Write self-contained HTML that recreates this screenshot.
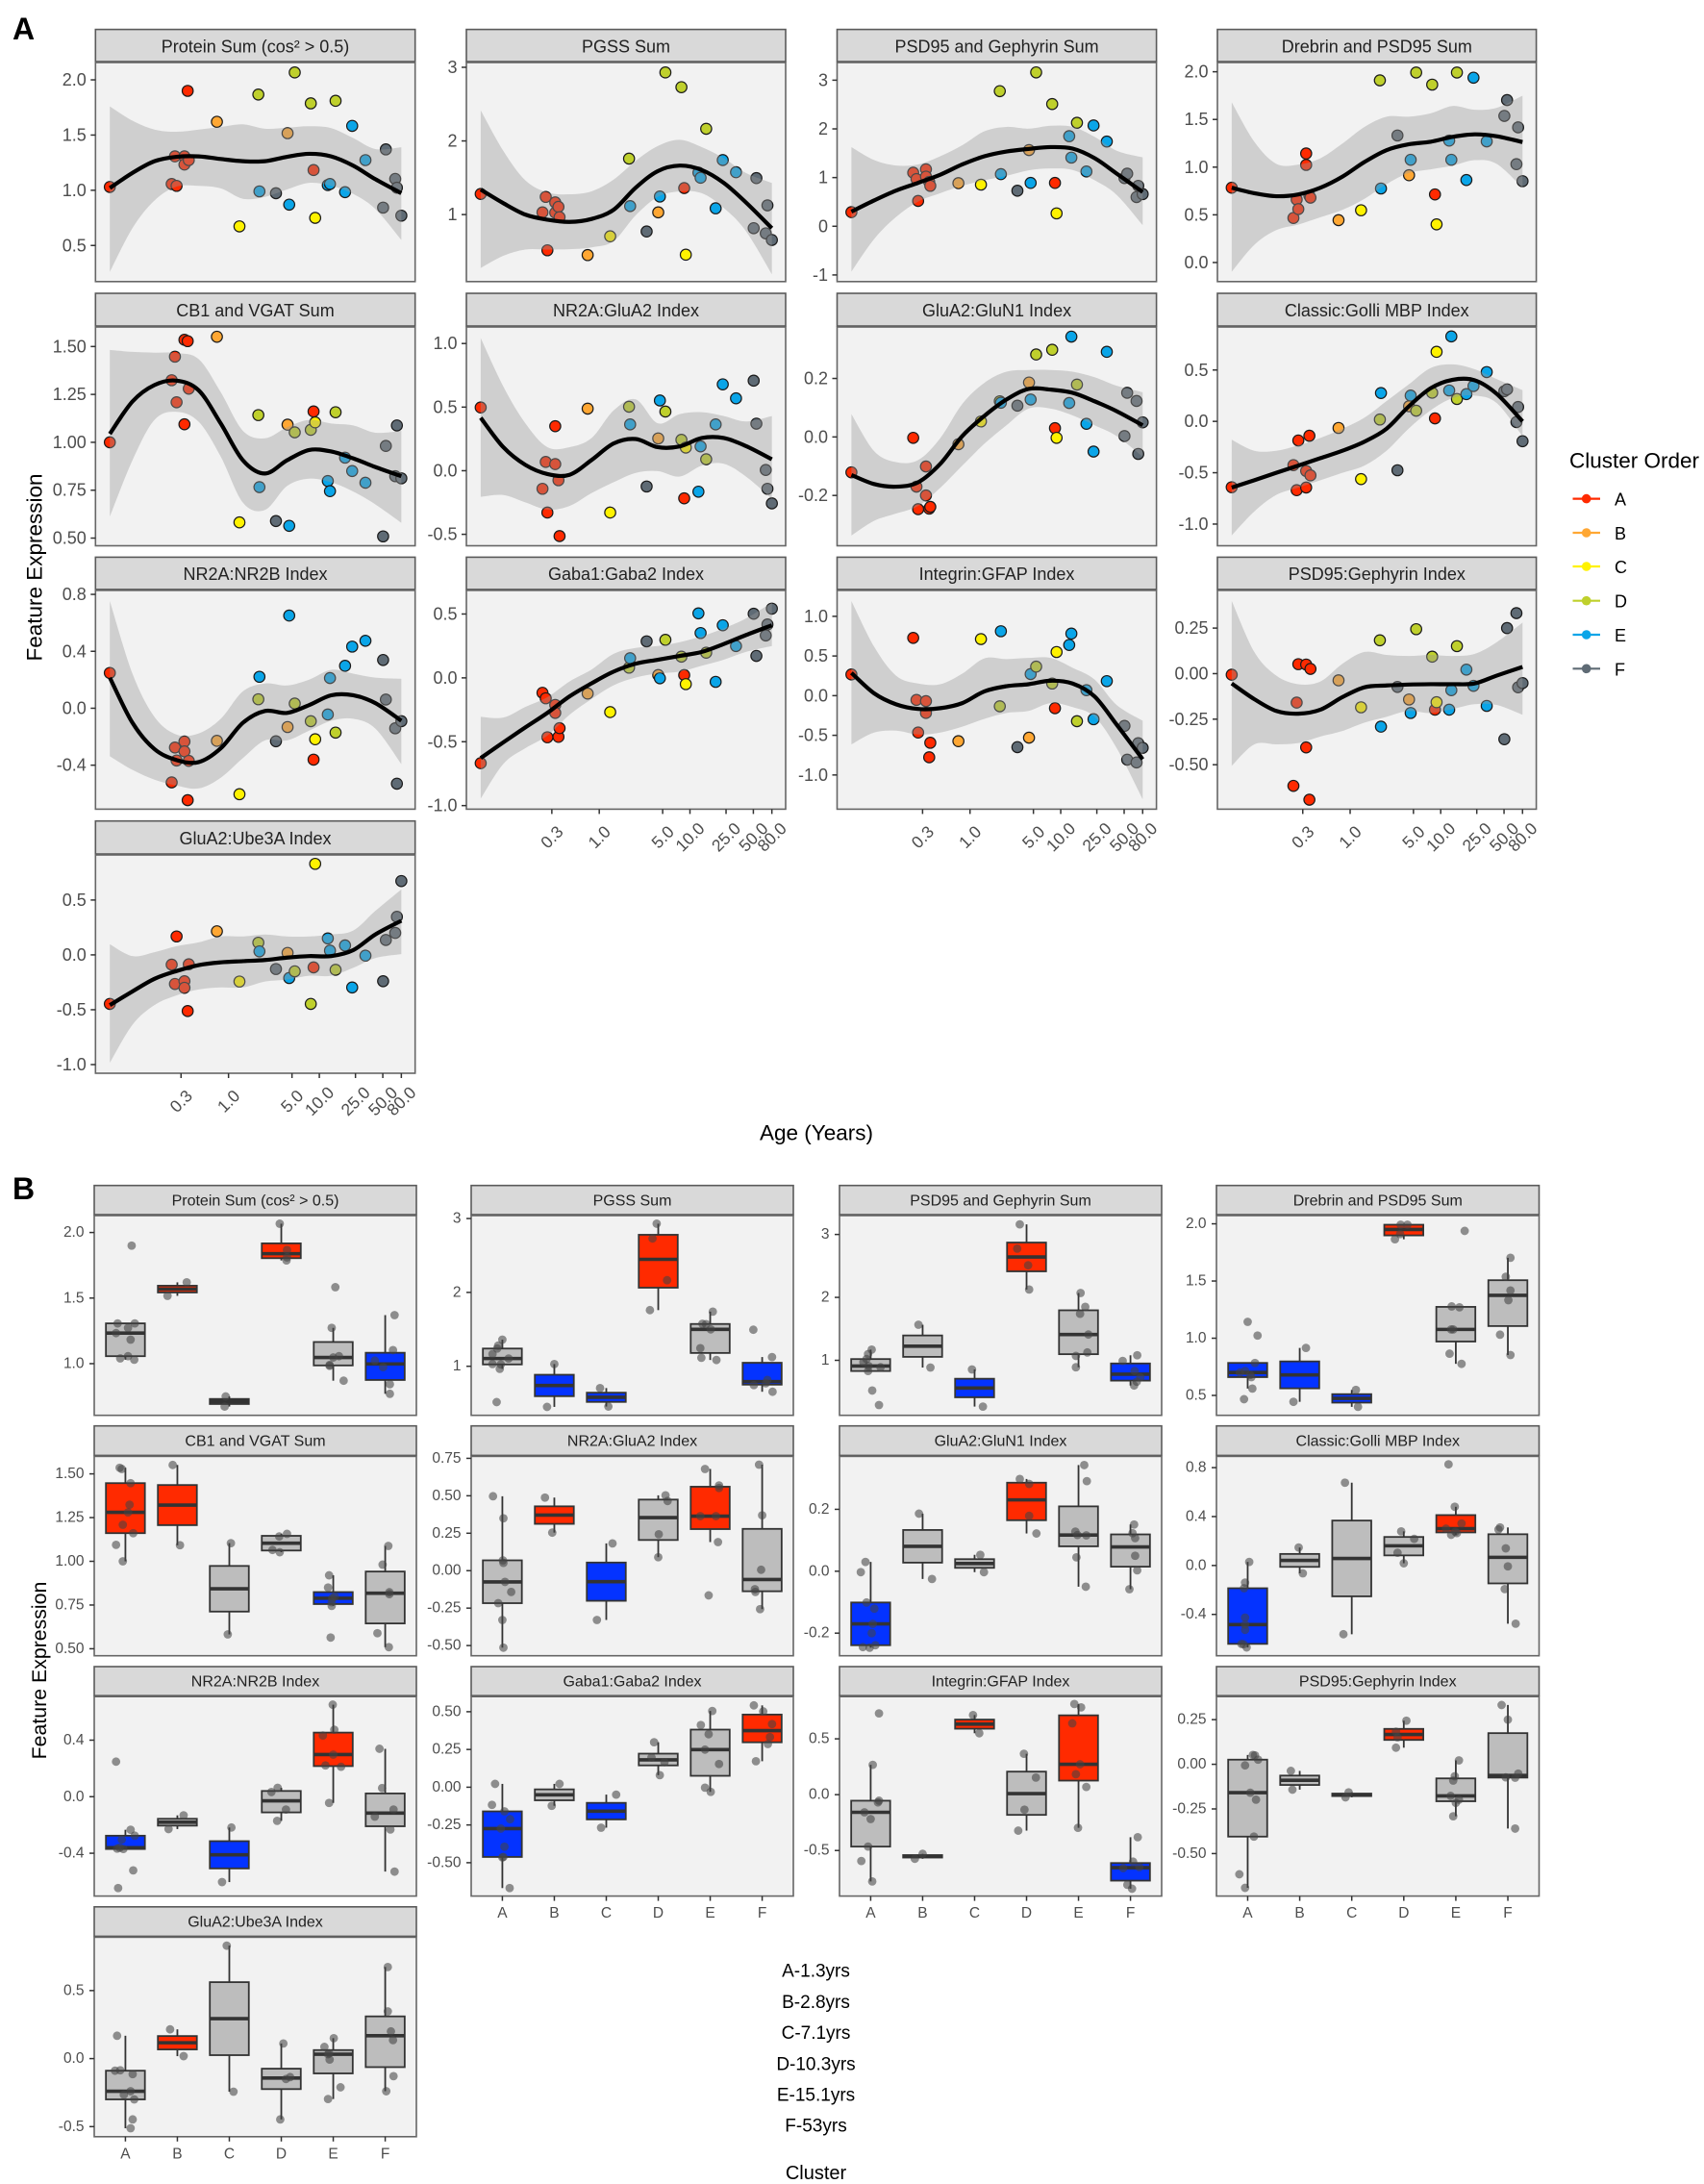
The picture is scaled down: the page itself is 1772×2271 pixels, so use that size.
<!DOCTYPE html>
<html lang="en">
<head>
<meta charset="utf-8">
<title>Feature expression by age and cluster</title>
<style>
html,body{margin:0;padding:0;background:#fff;}
body{width:1772px;height:2271px;overflow:hidden;}
svg{display:block;font-family:"Liberation Sans",Arial,sans-serif;}
</style>
</head>
<body>
<svg id="chart" width="1772" height="2271" viewBox="0 0 1772 2271" xmlns="http://www.w3.org/2000/svg">
<rect x="0" y="0" width="1772" height="2271" fill="#ffffff"/>
<text x="13" y="41" font-size="32" font-weight="bold" fill="#000">A</text>
<text x="13" y="1247" font-size="32" font-weight="bold" fill="#000">B</text>
<text transform="translate(36,590) rotate(-90)" text-anchor="middle" dominant-baseline="central" font-size="22.5" fill="#000">Feature Expression</text>
<text x="849" y="1178" text-anchor="middle" dominant-baseline="central" font-size="22.5" fill="#000">Age (Years)</text>
<text transform="translate(41,1737) rotate(-90)" text-anchor="middle" dominant-baseline="central" font-size="21.3" fill="#000">Feature Expression</text>
<text x="848.5" y="2050" text-anchor="middle" dominant-baseline="central" font-size="19" fill="#000">A-1.3yrs</text>
<text x="848.5" y="2082.5" text-anchor="middle" dominant-baseline="central" font-size="19" fill="#000">B-2.8yrs</text>
<text x="848.5" y="2114.5" text-anchor="middle" dominant-baseline="central" font-size="19" fill="#000">C-7.1yrs</text>
<text x="848.5" y="2147" text-anchor="middle" dominant-baseline="central" font-size="19" fill="#000">D-10.3yrs</text>
<text x="848.5" y="2179" text-anchor="middle" dominant-baseline="central" font-size="19" fill="#000">E-15.1yrs</text>
<text x="848.5" y="2211" text-anchor="middle" dominant-baseline="central" font-size="19" fill="#000">F-53yrs</text>
<text x="848.5" y="2260" text-anchor="middle" dominant-baseline="central" font-size="20" fill="#000">Cluster</text>
<text x="1632" y="479" dominant-baseline="central" font-size="22.5" fill="#000">Cluster Order</text>
</svg>
<script>
// ---------- shared sample data ----------
const sampleAges = [0.0493,0.2366,0.257,0.268,0.327,0.327,0.355,0.365,0.745,1.32,2.13,2.19,3.33,4.47,4.66,5.36,8.05,8.64,9.0,12.4,13.1,15.1,19.2,23.0,32.2,50.4,54,68.5,71.5,80];
const sampleClusters = ['A','A','A','A','A','A','A','A','B','C','D','E','F','B','E','D','D','A','C','E','E','D','E','E','E','F','F','F','F','F'];
const clusterNames = ['A','B','C','D','E','F'];
const clusterColors = ['#ff2a00','#ffa733','#fff200','#bfd02c','#0aa5e8','#5f6b75'];
const panelTitles = ['Protein Sum (cos\u00b2 > 0.5)','PGSS Sum','PSD95 and Gephyrin Sum','Drebrin and PSD95 Sum','CB1 and VGAT Sum','NR2A:GluA2 Index','GluA2:GluN1 Index','Classic:Golli MBP Index','NR2A:NR2B Index','Gaba1:Gaba2 Index','Integrin:GFAP Index','PSD95:Gephyrin Index','GluA2:Ube3A Index'];
const ageXTicks = [0.3,1,5,10,25,50,80];
const ageXDomainLog = [-1.465,2.055];

// ---------- feature values, one per sample ----------
const proteinSum = [1.03,1.057,1.307,1.04,1.307,1.233,1.9,1.273,1.62,.673,1.867,.99,.973,1.517,.87,2.067,1.787,1.183,.75,1.047,1.057,1.81,.983,1.583,1.273,.843,1.37,1.103,1.023,.77];
const pgssSum = [1.28,1.03,1.24,.515,1.165,1.025,1.105,.965,.45,.705,1.76,1.115,.77,1.03,1.245,2.93,2.73,1.36,.455,1.57,1.5,2.165,1.085,1.74,1.575,.815,1.495,.745,1.125,.655];
const psdGephSum = [.29,1.1,.97,.52,1.17,1.02,.91,.83,.885,.855,2.775,1.07,.73,1.565,.89,3.16,2.51,.89,.265,1.85,1.41,2.125,1.125,2.07,1.74,.99,1.08,.6,.83,.66];
const drebrinSum = [.784,.467,.66,.56,1.143,1.023,.7,.68,.444,.548,1.91,.776,1.332,.915,1.077,1.992,1.865,.714,.4,1.278,1.077,1.992,.865,1.938,1.27,1.537,1.703,1.031,1.417,.853];
const cb1VgatSum = [1.0,1.324,1.447,1.209,1.535,1.094,1.528,1.28,1.551,.582,1.142,.766,.589,1.092,.564,1.052,1.065,1.161,1.104,.798,.745,1.157,.92,.85,.789,.509,.981,.823,1.088,.812];
const nr2aGlua2 = [.497,-.142,.069,-.329,.052,.35,-.075,-.514,.488,-.329,.503,.364,-.124,.254,.552,.465,.243,-.217,.182,-.165,.191,.09,.364,.679,.569,.708,.37,.006,-.142,-.257];
const glua2Glun1 = [-.121,-.003,-.17,-.247,-.101,-.2,-.245,-.239,-.025,.053,.122,.117,.107,.186,.128,.282,.298,.03,-.003,.116,.343,.179,.045,-.05,.291,.003,.151,.123,-.058,.05];
const classicGolli = [-.641,-.426,-.67,-.186,-.644,-.483,-.14,-.526,-.064,-.562,.018,.276,-.476,.147,.251,.104,.279,.029,.677,.301,.827,.218,.265,.344,.48,.294,.311,-.007,.14,-.193];
const nr2aNr2b = [.248,-.521,-.276,-.367,-.234,-.303,-.646,-.37,-.229,-.604,.063,.221,-.232,-.132,.651,.033,-.091,-.361,-.218,-.044,.212,-.171,.298,.433,.474,.339,.061,-.141,-.53,-.091];
const gaba1Gaba2 = [-.668,-.117,-.16,-.465,-.212,-.274,-.462,-.394,-.123,-.268,.08,.154,.286,.022,-.003,.298,.166,.022,-.049,.505,.351,.197,-.031,.412,.249,.502,.172,.332,.418,.542];
const integrinGfap = [.267,.728,-.054,-.465,-.069,-.218,-.777,-.594,-.574,.713,-.134,.812,-.649,-.53,.272,.366,.153,-.158,.55,.639,.782,-.322,.069,-.297,.183,-.381,-.807,-.842,-.6,-.658];
const psdGephIndex = [-.006,-.616,-.159,.052,.05,-.405,-.692,.026,-.037,-.185,.183,-.291,-.073,-.142,-.216,.244,.093,-.198,-.157,-.198,-.091,.151,.022,-.067,-.177,-.36,.25,.332,-.075,-.052];
const glua2Ube3a = [-.447,-.089,-.265,.168,-.24,-.3,-.512,-.086,.215,-.243,.111,.032,-.129,.018,-.211,-.15,-.447,-.114,.83,.15,.039,-.136,.086,-.297,-.007,-.24,.136,.2,.347,.673];
const featureValues = [proteinSum,pgssSum,psdGephSum,drebrinSum,cb1VgatSum,nr2aGlua2,glua2Glun1,classicGolli,nr2aNr2b,gaba1Gaba2,integrinGfap,psdGephIndex,glua2Ube3a];

// ---------- smooth fits sampled at these ages ----------
const smoothAges = [0.0493,0.0875,0.153,0.268,0.47,0.822,1.44,2.52,4.41,7.72,13.5,23.6,41.4,80];
const fitProtein = [1.02,1.157,1.263,1.303,1.307,1.283,1.263,1.263,1.303,1.33,1.307,1.223,1.1,.973];
const upperProtein = [1.76,1.63,1.55,1.53,1.55,1.573,1.597,1.557,1.567,1.58,1.563,1.473,1.373,1.39];
const lowerProtein = [.26,.657,.907,1.033,1.04,1.017,.923,.94,1.007,1.067,1.04,.967,.83,.55];
const fitPgss = [1.34,1.155,1.0,.93,.9,.94,1.065,1.365,1.59,1.665,1.605,1.43,1.165,.815];
const upperPgss = [2.415,1.865,1.465,1.3,1.275,1.315,1.475,1.73,1.93,2.015,1.915,1.765,1.565,1.43];
const lowerPgss = [.275,.44,.525,.525,.53,.555,.64,.99,1.24,1.315,1.29,1.09,.775,.19];
const fitPsdGeph = [.3,.53,.733,.892,1.059,1.27,1.437,1.535,1.588,1.626,1.595,1.399,1.081,.703];
const upperPsdGeph = [1.626,1.36,1.248,1.27,1.437,1.664,1.95,2.04,2.004,2.064,2.042,1.837,1.55,1.414];
const lowerPsdGeph = [-.93,-.265,.19,.507,.68,.832,.945,1.036,1.149,1.187,1.157,.945,.643,.023];
const fitDrebrin = [.784,.726,.695,.714,.784,.9,1.054,1.178,1.239,1.266,1.317,1.344,1.324,1.263];
const upperDrebrin = [1.68,1.266,1.035,1.027,1.093,1.247,1.421,1.529,1.529,1.564,1.641,1.602,1.622,1.749];
const lowerDrebrin = [-.097,.185,.34,.398,.475,.552,.668,.822,.938,.977,1.015,1.073,1.035,.784];
const fitCb1 = [1.044,1.213,1.299,1.322,1.271,1.098,.906,.837,.906,.96,.952,.916,.871,.823];
const upperCb1 = [1.482,1.472,1.468,1.466,1.434,1.261,1.06,1.021,1.079,1.117,1.098,1.088,1.05,1.06];
const lowerCb1 = [.612,.906,1.117,1.159,1.107,.925,.685,.647,.772,.81,.791,.743,.676,.58];
const fitGlua2 = [.416,.185,.046,-.026,-.032,.084,.214,.249,.185,.191,.257,.257,.194,.09];
const upperGlua2 = [1.043,.662,.373,.185,.185,.257,.474,.561,.373,.445,.46,.43,.387,.43];
const lowerGlua2 = [-.205,-.191,-.249,-.306,-.277,-.176,-.09,-.017,-.003,-.046,.04,.055,-.046,-.22];
const fitGlun1 = [-.13,-.161,-.17,-.155,-.092,.003,.072,.128,.164,.162,.151,.122,.088,.04];
const upperGlun1 = [.078,-.048,-.086,-.079,-.004,.113,.185,.223,.229,.229,.223,.204,.175,.153];
const lowerGlun1 = [-.337,-.287,-.262,-.236,-.174,-.098,-.023,.04,.097,.097,.074,.04,.003,-.067];
const fitGolli = [-.644,-.573,-.501,-.43,-.358,-.286,-.197,-.072,.143,.322,.405,.401,.269,0];
const upperGolli = [-.179,-.286,-.286,-.233,-.161,-.072,.036,.197,.358,.519,.555,.508,.412,.304];
const lowerGolli = [-1.11,-.877,-.716,-.644,-.573,-.501,-.43,-.286,-.072,.107,.226,.251,.179,-.143];
const fitNr2b = [.215,-.102,-.287,-.364,-.378,-.281,-.102,-.019,-.033,.022,.091,.091,.036,-.088];
const upperNr2b = [.753,.243,-.061,-.185,-.177,-.074,.119,.174,.16,.201,.27,.243,.215,.207];
const lowerNr2b = [-.337,-.433,-.502,-.543,-.563,-.488,-.35,-.226,-.226,-.157,-.088,-.074,-.143,-.392];
const fitGaba = [-.628,-.505,-.388,-.274,-.145,-.043,.049,.111,.142,.172,.203,.265,.335,.412];
const upperGaba = [-.305,-.311,-.228,-.151,-.028,.065,.188,.234,.249,.28,.326,.388,.465,.588];
const lowerGaba = [-.945,-.674,-.551,-.452,-.289,-.166,-.058,.003,.034,.049,.095,.142,.203,.249];
const fitGfap = [.287,.03,-.109,-.168,-.158,-.094,.054,.119,.144,.188,.153,-.01,-.366,-.802];
const upperGfap = [1.193,.619,.252,.153,.144,.277,.47,.46,.475,.475,.351,.203,-.119,-.317];
const lowerGfap = [-.614,-.465,-.441,-.49,-.465,-.391,-.292,-.218,-.193,-.094,-.144,-.267,-.663,-1.307];
const fitGephIndex = [-.054,-.14,-.205,-.22,-.198,-.129,-.075,-.065,-.06,-.058,-.058,-.054,-.011,.037];
const upperGephIndex = [.399,.119,-.011,-.058,-.043,.054,.119,.103,.097,.103,.097,.108,.172,.28];
const lowerGephIndex = [-.506,-.388,-.388,-.381,-.345,-.315,-.269,-.237,-.205,-.216,-.194,-.168,-.172,-.226];
const fitUbe3a = [-.458,-.333,-.218,-.147,-.093,-.068,-.057,-.047,-.025,-.011,-.011,.043,.186,.311];
const upperUbe3a = [.097,-.011,.025,.079,.114,.168,.168,.186,.168,.168,.186,.222,.401,.597];
const lowerUbe3a = [-.984,-.637,-.458,-.369,-.315,-.297,-.297,-.243,-.225,-.19,-.19,-.118,-.029,.007];
const fitCurves = [fitProtein,fitPgss,fitPsdGeph,fitDrebrin,fitCb1,fitGlua2,fitGlun1,fitGolli,fitNr2b,fitGaba,fitGfap,fitGephIndex,fitUbe3a];
const upperCurves = [upperProtein,upperPgss,upperPsdGeph,upperDrebrin,upperCb1,upperGlua2,upperGlun1,upperGolli,upperNr2b,upperGaba,upperGfap,upperGephIndex,upperUbe3a];
const lowerCurves = [lowerProtein,lowerPgss,lowerPsdGeph,lowerDrebrin,lowerCb1,lowerGlua2,lowerGlun1,lowerGolli,lowerNr2b,lowerGaba,lowerGfap,lowerGephIndex,lowerUbe3a];

// ---------- y axes ----------
const ageYDomains = [[.173,2.157],[.09,3.065],[-1.136,3.363],[-.2,2.097],[.46,1.602],[-.59,1.13],[-.372,.376],[-1.211,.919],[-.709,.828],[-1.028,.685],[-1.431,1.327],[-.744,.457],[-1.079,.911]];
const ageYTicks = [[.5,1,1.5,2],[1,2,3],[-1,0,1,2,3],[0,.5,1,1.5,2],[.5,.75,1,1.25,1.5],[-.5,0,.5,1],[-.2,0,.2],[-1,-.5,0,.5],[-.4,0,.4,.8],[-1,-.5,0,.5],[-1,-.5,0,.5,1],[-.5,-.25,0,.25],[-1,-.5,0,.5]];
const ageYDecimals = [1,0,0,1,2,1,1,1,1,1,1,2,1];
const boxYDomains = [[.606,2.129],[.336,3.04],[.126,3.3],[.326,2.072],[.46,1.6],[-.568,.763],[-.273,.371],[-.738,.892],[-.703,.708],[-.721,.6],[-.908,.878],[-.738,.379],[-.574,.892]];
const boxYTicks = [[1,1.5,2],[1,2,3],[1,2,3],[.5,1,1.5,2],[.5,.75,1,1.25,1.5],[-.5,-.25,0,.25,.5,.75],[-.2,0,.2],[-.4,0,.4,.8],[-.4,0,.4],[-.5,-.25,0,.25,.5],[-.5,0,.5],[-.5,-.25,0,.25],[-.5,0,.5]];
const boxYDecimals = [1,0,0,1,2,2,1,1,1,2,1,2,1];

// ---------- box fill significance: g neutral, r high, b low ----------
const boxSignificance = ['grgrgb','gbbrgb','ggbrgb','bbbrgg','rrggbg','grbgrg','bggrgg','bgggrg','bgbgrg','bgbggr','ggrgrb','gggrgg','grgggg'];
const significanceColors = {g:'#bdbdbd',r:'#ff2a00',b:'#0433ff'};

// ---------- horizontal jitter of each point, in category units ----------
const jitterProtein = [.17,.05,-.15,-.1,.18,-.18,.12,.05,.18,-.09,.11,-.07,-.04,-.19,.2,-.03,.1,.1,-.07,0,.11,.11,-.07,.04,-.03,.09,.18,.15,-.2,.09];
const jitterPgss = [-.08,-.19,-.1,-.11,-.19,-.03,.12,-.05,-.14,-.12,-.16,-.17,.07,0,-.19,-.03,-.11,0,.04,-.08,.01,.17,.12,.05,-.15,.1,-.17,-.16,.19,.2];
const jitterPsdGeph = [.16,-.05,-.14,.03,.02,-.08,-.04,-.05,.15,-.05,-.18,-.05,.19,-.08,-.05,-.13,.03,.19,.16,.13,.19,.05,.17,.04,.03,-.15,.13,.07,.08,.12];
const jitterDrebrin = [.14,-.07,.07,.09,0,.19,-.15,.05,-.12,.08,-.07,.11,.01,.12,-.09,-.06,-.17,-.05,.12,-.08,-.05,.07,-.12,.17,.07,-.04,.05,-.15,.05,.05];
const jitterCb1 = [-.05,.08,.1,-.05,-.11,-.18,-.07,.05,-.09,-.03,-.04,-.03,-.15,.05,-.05,-.03,-.17,.15,.03,.03,-.03,.11,-.08,-.1,-.02,.07,-.05,.08,.06,.08];
const jitterGlua2 = [-.18,.17,.01,0,.02,.02,.05,.02,-.18,-.18,.14,-.19,-.14,-.04,.17,.18,.01,-.08,.12,-.03,.15,0,.11,-.1,.17,-.06,0,-.02,-.13,-.04];
const jitterGlun1 = [.07,-.19,.04,-.02,-.08,.02,-.15,.09,.18,.11,.19,-.02,.09,-.07,-.06,.05,-.13,-.1,.18,.15,.11,.05,-.04,.14,.16,.13,.07,.04,-.02,.09];
const jitterGolli = [-.12,-.05,-.02,-.07,-.08,-.05,-.05,-.05,.06,-.16,0,-.01,.15,-.02,-.09,-.12,-.05,.03,-.13,-.19,-.14,.2,.02,.11,-.02,-.18,-.15,0,-.04,-.06];
const jitterNr2b = [-.18,.15,.18,-.16,.1,-.07,-.14,-.04,-.17,-.14,-.07,-.15,.1,.12,-.01,-.19,.09,-.11,.04,-.08,.15,-.08,0,-.2,.02,-.11,-.06,-.2,.18,.16];
const jitterGaba = [.14,-.2,.04,0,.15,-.03,.02,.04,-.05,-.1,.03,.17,.11,.1,-.1,-.08,.12,-.14,.19,.04,-.03,-.13,.01,-.18,-.1,.02,-.12,.15,.19,-.16];
const jitterGfap = [.04,.16,.16,-.05,.14,0,.03,-.18,-.15,-.03,-.04,-.08,.17,0,.03,-.05,.18,-.12,.09,-.12,.05,-.16,.15,-.01,-.05,.14,-.06,.03,.05,-.14];
const jitterGephIndex = [-.05,-.16,.05,.1,.14,.12,-.05,.2,-.17,-.12,-.15,-.05,-.04,-.14,0,.05,-.15,.16,-.06,.06,-.05,-.12,.06,-.02,-.1,.14,0,-.12,.14,.2];
const jitterUbe3a = [.14,-.2,-.03,-.16,.1,.17,.1,-.1,-.14,.08,.04,-.1,.16,.12,.14,.09,-.02,.14,-.05,.01,-.08,.17,-.17,-.1,-.07,.02,.15,.11,.05,.05];
const pointJitter = [jitterProtein,jitterPgss,jitterPsdGeph,jitterDrebrin,jitterCb1,jitterGlua2,jitterGlun1,jitterGolli,jitterNr2b,jitterGaba,jitterGfap,jitterGephIndex,jitterUbe3a];

// ---------- drawing ----------
const SVG_NS = 'http://www.w3.org/2000/svg';
const root = document.getElementById('chart');
function mk(tag, attrs, parent, text) {
  const el = document.createElementNS(SVG_NS, tag);
  for (const k in attrs) el.setAttribute(k, attrs[k]);
  if (text !== undefined) el.textContent = text;
  parent.appendChild(el);
  return el;
}
function linear(domain, range) {
  return v => range[0] + (v - domain[0]) / (domain[1] - domain[0]) * (range[1] - range[0]);
}
function smoothPath(pts, start) {
  let d = (start ? 'M' : 'L') + pts[0][0].toFixed(2) + ' ' + pts[0][1].toFixed(2);
  for (let i = 0; i < pts.length - 1; i++) {
    const p0 = pts[Math.max(i - 1, 0)], p1 = pts[i], p2 = pts[i + 1], p3 = pts[Math.min(i + 2, pts.length - 1)];
    const c1 = [p1[0] + (p2[0] - p0[0]) / 6, p1[1] + (p2[1] - p0[1]) / 6];
    const c2 = [p2[0] - (p3[0] - p1[0]) / 6, p2[1] - (p3[1] - p1[1]) / 6];
    d += 'C' + c1[0].toFixed(2) + ' ' + c1[1].toFixed(2) + ' ' + c2[0].toFixed(2) + ' ' + c2[1].toFixed(2) + ' ' + p2[0].toFixed(2) + ' ' + p2[1].toFixed(2);
  }
  return d;
}
function quantile(sorted, q) {
  const h = (sorted.length - 1) * q, lo = Math.floor(h), hi = Math.ceil(h);
  return sorted[lo] + (sorted[hi] - sorted[lo]) * (h - lo);
}
function drawFrame(g, i, layout, fontTitle) {
  const col = i % 4, row = Math.floor(i / 4);
  const L = layout.left[col], R = layout.right[col], sT = layout.stripTop[row], sB = layout.stripBottom[row], B = layout.bottom[row];
  const T = sB + 1;
  const strip = mk('rect', {x:L, y:sT, width:R - L, height:sB - sT, fill:'#d9d9d9', stroke:'#5a5a5a', 'stroke-width':1.6}, g);
  
  
  const title = mk('text', {x:(L + R) / 2, y:(sT + sB) / 2 + 1, 'text-anchor':'middle', 'dominant-baseline':'central', 'font-size':fontTitle, fill:'#222'}, g, panelTitles[i]);
  
  
  const bg = mk('rect', {x:L, y:T, width:R - L, height:B - T, fill:'#f2f2f2'}, g);
  
  
  return {L, R, T, B, col, row};
}
function drawBorder(g, f) {
  const border = mk('rect', {x:f.L, y:f.T, width:f.R - f.L, height:f.B - f.T, fill:'none', stroke:'#666', 'stroke-width':1.6}, g);
  
  
}
function drawYTicks(g, f, ticks, decimals, y, size, gap) {
  ticks.forEach(t => {
    const tick = mk('line', {x1:f.L - 5, x2:f.L, y1:y(t), y2:y(t), stroke:'#333', 'stroke-width':1.5}, g);
    
    
    const label = mk('text', {x:f.L - gap, y:y(t), 'text-anchor':'end', 'dominant-baseline':'central', 'font-size':size, fill:'#4d4d4d'}, g, t.toFixed(decimals));
    
    
  });
}

// Section A: age trajectories
const ageLayout = {left:[99.3,485,870.5,1266], right:[431.7,817,1202.6,1597.6], stripTop:[30.6,305,579.4,853.7], stripBottom:[64,339,612.9,888], bottom:[292.8,567.5,841.4,1116]};
panelTitles.forEach((_, i) => {
  const g = mk('g', {}, root);
  
  
  const f = drawFrame(g, i, ageLayout, 18);
  const x = a => linear(ageXDomainLog, [f.L, f.R])(Math.log10(a));
  const y = linear(ageYDomains[i], [f.B, f.T]);
  featureValues[i].forEach((v, s) => {
    const pt = mk('circle', {cx:x(sampleAges[s]), cy:y(v), r:5.7, fill:clusterColors[clusterNames.indexOf(sampleClusters[s])], stroke:'#1a1a1a', 'stroke-width':1.2}, g);
    
    
  });
  const up = smoothAges.map((a, k) => [x(a), y(upperCurves[i][k])]);
  const lo = smoothAges.map((a, k) => [x(a), y(lowerCurves[i][k])]).reverse();
  const ribbon = mk('path', {d:smoothPath(up, true) + smoothPath(lo, false) + 'Z', fill:'#999', 'fill-opacity':.39}, g);
  
  
  const fit = mk('path', {d:smoothPath(smoothAges.map((a, k) => [x(a), y(fitCurves[i][k])]), true), fill:'none', stroke:'#000', 'stroke-width':4.2}, g);
  
  
  drawBorder(g, f);
  drawYTicks(g, f, ageYTicks[i], ageYDecimals[i], y, 18, 9.5);
  if (i >= 9) {
    ageXTicks.forEach(t => {
      const tx = x(t);
      const tick = mk('line', {x1:tx, x2:tx, y1:f.B, y2:f.B + 5, stroke:'#333', 'stroke-width':1.5}, g);
      
      
      const label = mk('text', {transform:'translate(' + tx + ',' + (f.B + 29) + ') rotate(-45)', 'text-anchor':'middle', 'dominant-baseline':'central', 'font-size':17.5, fill:'#4d4d4d'}, g, t.toFixed(1));
      
      
    });
  }
});

// Legend
const legendRows = [518.6,554,589,624.7,660,695.3];
clusterNames.forEach((name, c) => {
  const g = mk('g', {}, root);
  
  
  const keyLine = mk('line', {x1:1635.5, x2:1664, y1:legendRows[c], y2:legendRows[c], stroke:clusterColors[c], 'stroke-width':2.2}, g);
  
  
  const keyDot = mk('circle', {cx:1649.7, cy:legendRows[c], r:4.8, fill:clusterColors[c]}, g);
  
  
  const keyLabel = mk('text', {x:1679, y:legendRows[c] + 1, 'dominant-baseline':'central', 'font-size':18, fill:'#000'}, g, name);
  
  
});

// Section B: cluster box plots
const boxLayout = {left:[98,490,873,1265], right:[433,825,1208,1600.5], stripTop:[1232.7,1482.7,1733,1982.8], stripBottom:[1263,1513.4,1763.2,2013.4], bottom:[1471.7,1721.7,1971.6,2221.8]};
panelTitles.forEach((_, i) => {
  const g = mk('g', {}, root);
  
  
  const f = drawFrame(g, i, boxLayout, 16);
  const band = (f.R - f.L) / 6.2;
  const x = c => f.L + (c + 0.6) * band;
  const y = linear(boxYDomains[i], [f.B, f.T]);
  clusterNames.forEach((name, c) => {
    const vals = featureValues[i].filter((_, s) => sampleClusters[s] === name).sort((a, b) => a - b);
    const q1 = quantile(vals, .25), med = quantile(vals, .5), q3 = quantile(vals, .75);
    const iqr = q3 - q1;
    const wLo = Math.min(...vals.filter(v => v >= q1 - 1.5 * iqr));
    const wHi = Math.max(...vals.filter(v => v <= q3 + 1.5 * iqr));
    const cx = x(c), hw = band * 0.375;
    const whisker = mk('line', {x1:cx, x2:cx, y1:y(wLo), y2:y(wHi), stroke:'#333', 'stroke-width':1.8}, g);
    
    
    const box = mk('rect', {x:cx - hw, width:2 * hw, y:y(q3), height:Math.max(y(q1) - y(q3), .5), fill:significanceColors[boxSignificance[i][c]], stroke:'#333', 'stroke-width':1.8}, g);
    
    
    const median = mk('line', {x1:cx - hw, x2:cx + hw, y1:y(med), y2:y(med), stroke:'#333', 'stroke-width':3.6}, g);
    
    
  });
  featureValues[i].forEach((v, s) => {
    const c = clusterNames.indexOf(sampleClusters[s]);
    const pt = mk('circle', {cx:x(c + pointJitter[i][s]), cy:y(v), r:4.4, fill:'#444', 'fill-opacity':.58}, g);
    
    
  });
  drawBorder(g, f);
  drawYTicks(g, f, boxYTicks[i], boxYDecimals[i], y, 15.5, 10.5);
  if (i >= 9) {
    clusterNames.forEach((name, c) => {
      const tick = mk('line', {x1:x(c), x2:x(c), y1:f.B, y2:f.B + 5, stroke:'#333', 'stroke-width':1.5}, g);
      
      
      const label = mk('text', {x:x(c), y:f.B + 18, 'text-anchor':'middle', 'dominant-baseline':'central', 'font-size':15.5, fill:'#4d4d4d'}, g, name);
      
      
    });
  }
});
</script>
</body>
</html>
